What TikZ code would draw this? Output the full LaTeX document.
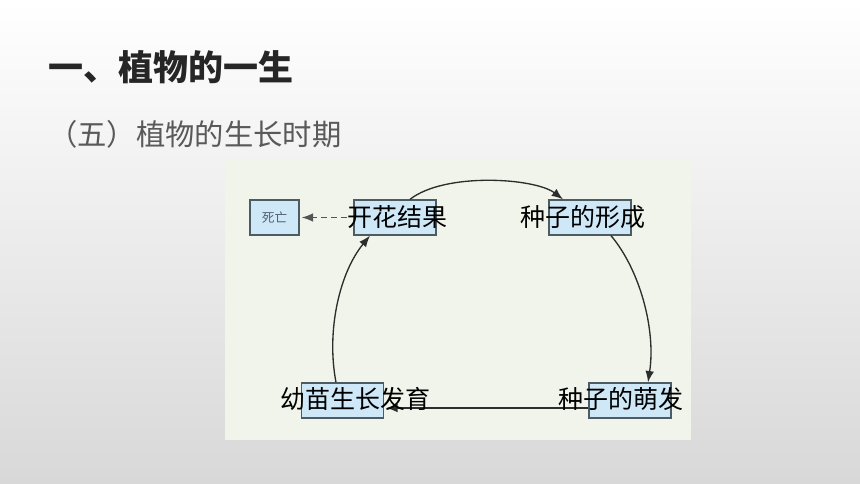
\documentclass[tikz,border=0pt]{standalone}
\usepackage{fontspec}
\usepackage{tikz}
\usetikzlibrary{arrows.meta,calc}
\newfontfamily\cjk{Noto Sans CJK SC}
\definecolor{panelbg}{RGB}{240,244,234}
\definecolor{boxfill}{RGB}{207,232,247}
\definecolor{boxline}{RGB}{77,91,99}
\definecolor{arcline}{RGB}{45,45,45}
\definecolor{dashgray}{RGB}{85,85,85}
\definecolor{titlegray}{RGB}{38,38,38}
\definecolor{subgray}{RGB}{89,89,89}
\definecolor{deathgray}{RGB}{80,95,110}
\definecolor{bggray}{RGB}{216,216,216}

\tikzset{
  stage/.style={draw=boxline, fill=boxfill, line width=1pt, minimum width=61.5pt, minimum height=26.25pt, inner sep=0pt},
  stagetext/.style={inner sep=0pt, font=\cjk\fontsize{18.75}{20}\selectfont},
  flow/.style={draw=arcline, line width=1pt, -{Latex[length=8.5pt,width=6.5pt]}},
}

\begin{document}
\begin{tikzpicture}[x=0.75pt,y=0.75pt,yscale=-1,xscale=1]
\useasboundingbox (0,0) rectangle (860,484);

%Shape: Rectangle [background]
\shade[top color=white, bottom color=bggray] (0,0) rectangle (860,484);
%Shape: Rectangle [panel]
\fill[panelbg] (225,160) rectangle (691,440);

% Text Node
\node[anchor=west, inner sep=0pt, font=\cjk\bfseries\fontsize{26.25}{28}\selectfont, text=titlegray] (title) at (48,67.5) {一、植物的一生};
% Text Node
\node[anchor=west, inner sep=0pt, font=\cjk\fontsize{22}{24}\selectfont, text=subgray] (subtitle) at (48,134) {（五）植物的生长时期};

%Shape: Rectangle [stages]
\node[stage, minimum width=36.75pt, font=\cjk\fontsize{9.5}{10}\selectfont, text=deathgray] (death) at (274.5,217.5) {死亡};
\node[stage] (flower) at (395,217.5) {};
\node[stage] (seedform) at (590,217.5) {};
\node[stage] (seedling) at (342.5,400.5) {};
\node[stage] (sprout) at (630,400.5) {};

%Curve Lines
\draw[flow] ($(flower.north)+(15,0)$) .. controls (445,172) and (535,178) .. ($(seedform.north)+(-27,0)$);
%Curve Lines
\draw[flow] ($(seedform.south)+(21,0)$) .. controls (640,270) and (656,330) .. ($(sprout.north)+(18,0)$);
%Straight Lines
\draw[flow] ($(sprout.west)+(0,7.5)$) -- ($(seedling.east)+(2,7.5)$);
%Curve Lines
\draw[flow] ($(seedling.north)+(-6.5,0)$) .. controls (326,330) and (340,272) .. ($(flower.south)+(-25,0)$);

% Text Node
\node[stagetext] (flowerT) at (397.5,217.5) {开花结果};
% Text Node
\node[stagetext] (seedformT) at (582.5,217.5) {种子的形成};
% Text Node
\node[stagetext] (seedlingT) at (355.5,399.3) {幼苗生长发育};
% Text Node
\node[stagetext] (sproutT) at (620.5,399.3) {种子的萌发};

%Straight Lines [dashed]
\draw[flow, draw=dashgray, dash pattern=on 4.5pt off 3pt] (flowerT.west) -- ($(death.east)+(2,0)$);

\end{tikzpicture}
\end{document}
